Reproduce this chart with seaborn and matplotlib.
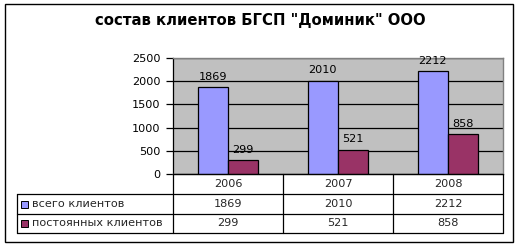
import matplotlib
matplotlib.use("Agg")
import matplotlib.pyplot as plt
import seaborn as sns
import pandas as pd
from matplotlib.lines import Line2D
from matplotlib.patches import Rectangle

years = ["2006", "2007", "2008"]
total_clients = [1869, 2010, 2212]
regular_clients = [299, 521, 858]
series_names = ["всего клиентов", "постоянных клиентов"]
title = 'состав клиентов БГСП "Доминик" ООО'
yticks = [0, 500, 1000, 1500, 2000, 2500]
colors = ["#9999FF", "#993366"]

sns.set_theme(style="white")
plt.rcParams["font.family"] = ["DejaVu Sans"]

df = pd.DataFrame({
    "year": years * 2,
    "value": total_clients + regular_clients,
    "series": [series_names[0]] * 3 + [series_names[1]] * 3,
})

W, H = 520, 248
fig = plt.figure(figsize=(W / 100, H / 100), dpi=100)
fig.patch.set_facecolor("white")

def fx(px):
    return px / W

def fy(py):
    return 1 - py / H

FS = 8.1

# plot area in pixels
L, R, T, B = 173, 503, 58, 174
ax = fig.add_axes([fx(L), fy(B), fx(R - L), (B - T) / H])
ax.set_facecolor("#C0C0C0")
sns.barplot(data=df, x="year", y="value", hue="series", palette=colors,
            width=0.55, edgecolor="black", linewidth=0.9, ax=ax,
            legend=False, saturation=1, zorder=3)
ax.set_ylim(0, 2500)
ax.set_xlim(-0.5, 2.5)
ax.set_yticks(yticks)
ax.set_yticklabels([str(v) for v in yticks], fontsize=FS)
ax.set_xticks([])
ax.set_xlabel("")
ax.set_ylabel("")
ax.yaxis.grid(True, color="black", linewidth=0.9, zorder=0)
ax.set_axisbelow(True)
ax.tick_params(axis="y", left=True, length=5, width=0.9, color="black", pad=4, labelcolor="black")
for s in ["top", "right", "bottom"]:
    ax.spines[s].set_color("#808080")
    ax.spines[s].set_linewidth(1.0)
ax.spines["left"].set_color("black")
ax.spines["left"].set_linewidth(0.9)
for c in ax.containers:
    ax.bar_label(c, fmt="%d", padding=4, fontsize=FS, color="black", clip_on=False)

# outer border
fig.add_artist(Rectangle((fx(5), fy(242)), fx(508), (242 - 4) / H, fill=False,
                         edgecolor="black", linewidth=1.0, transform=fig.transFigure))

# title
fig.text(fx(260), fy(21), title, ha="center", va="center", fontsize=10.7,
         fontweight="bold", color="black")

# data table
TL = 17
rows_y = [174, 194, 214, 233]
cols_x = [L, 283, 393, R]

def hline(x0, x1, y):
    fig.add_artist(Line2D([fx(x0), fx(x1)], [fy(y), fy(y)], color="black",
                          linewidth=0.9, transform=fig.transFigure))

def vline(x, y0, y1):
    fig.add_artist(Line2D([fx(x), fx(x)], [fy(y0), fy(y1)], color="black",
                          linewidth=0.9, transform=fig.transFigure))

hline(L, R, rows_y[0])
hline(TL, R, rows_y[1])
hline(TL, R, rows_y[2])
hline(TL, R, rows_y[3])
for x in cols_x:
    vline(x, rows_y[0], rows_y[3])
vline(TL, rows_y[1], rows_y[3])

for i, yr in enumerate(years):
    cx = (cols_x[i] + cols_x[i + 1]) / 2
    fig.text(fx(cx), fy((rows_y[0] + rows_y[1]) / 2), yr, ha="center", va="center", fontsize=FS)
    fig.text(fx(cx), fy((rows_y[1] + rows_y[2]) / 2), str(total_clients[i]), ha="center", va="center", fontsize=FS)
    fig.text(fx(cx), fy((rows_y[2] + rows_y[3]) / 2), str(regular_clients[i]), ha="center", va="center", fontsize=FS)

for j, name in enumerate(series_names):
    yc = (rows_y[j + 1] + rows_y[j + 2]) / 2
    fig.add_artist(Rectangle((fx(21), fy(yc + 3.5)), fx(7), 7 / H, facecolor=colors[j],
                             edgecolor="black", linewidth=0.7, transform=fig.transFigure))
    fig.text(fx(32), fy(yc), name, ha="left", va="center", fontsize=FS)

fig.savefig("out.png", dpi=100)
